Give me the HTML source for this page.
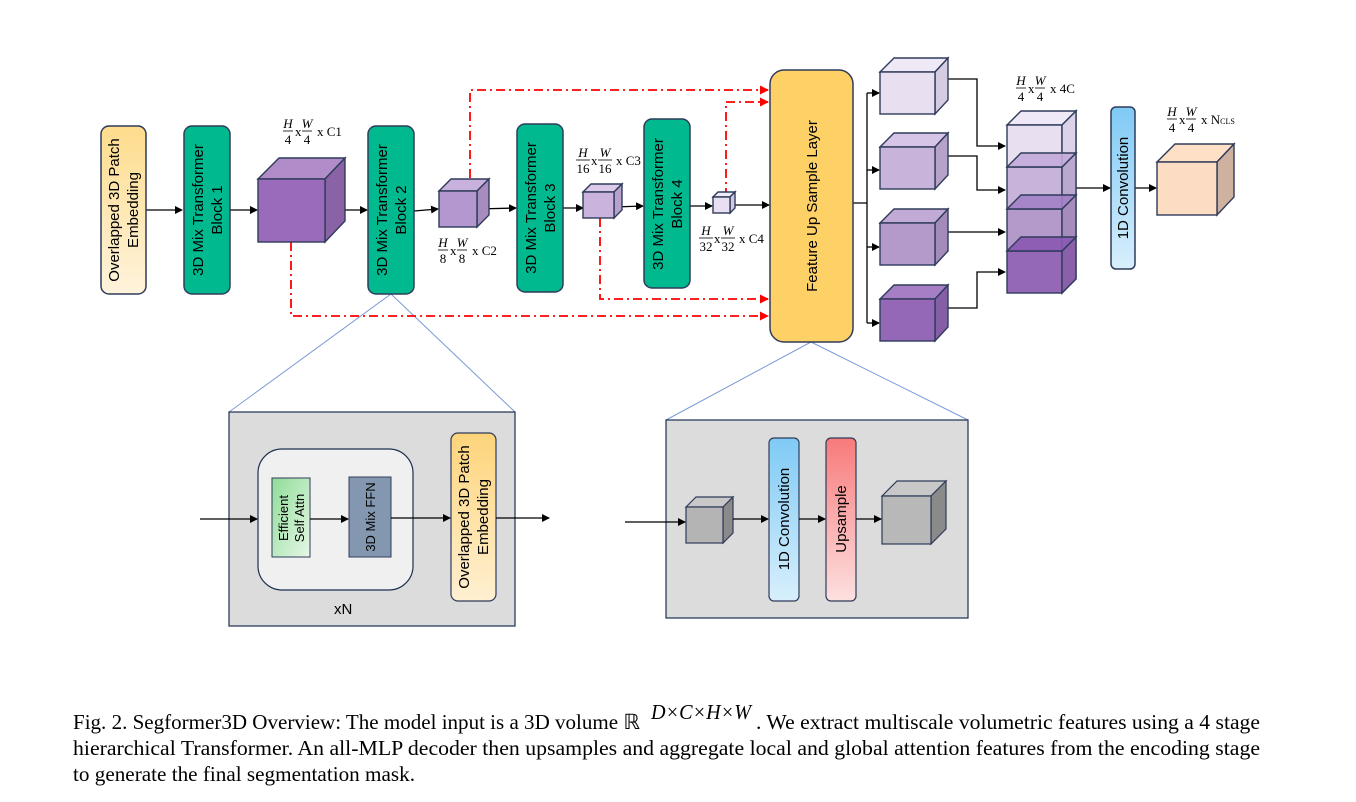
<!DOCTYPE html>
<html><head><meta charset="utf-8"><style>
html,body{margin:0;padding:0;background:#fff}
svg{display:block}
.b{font-family:"Liberation Sans",sans-serif;font-size:15px;fill:#000}
.f{font-family:"Liberation Serif",serif;font-size:13px;fill:#000}
.fi{font-family:"Liberation Serif",serif;font-style:italic;font-size:13px;fill:#000}
.cap{font-family:"Liberation Serif",serif;font-size:21px;fill:#000}
</style></head><body>
<svg width="1356" height="802" viewBox="0 0 1356 802" xmlns="http://www.w3.org/2000/svg">
<defs>
<linearGradient id="yel" x1="0" y1="0" x2="0" y2="1"><stop offset="0" stop-color="#fddc8c"/><stop offset="1" stop-color="#fff3dc"/></linearGradient>
<linearGradient id="yel2" x1="0" y1="0" x2="0" y2="1"><stop offset="0" stop-color="#fdd47a"/><stop offset="1" stop-color="#fff0d2"/></linearGradient>
<linearGradient id="grn" x1="0" y1="0" x2="1" y2="1"><stop offset="0" stop-color="#8fdc98"/><stop offset="1" stop-color="#e6f7e6"/></linearGradient>
<linearGradient id="blu" x1="0" y1="0" x2="0" y2="1"><stop offset="0" stop-color="#7fcaf5"/><stop offset="1" stop-color="#d8effc"/></linearGradient>
<linearGradient id="red" x1="0" y1="0" x2="0" y2="1"><stop offset="0" stop-color="#f87a7a"/><stop offset="1" stop-color="#fde0e0"/></linearGradient>
<marker id="ar" markerWidth="8" markerHeight="8" refX="7" refY="4" orient="auto" markerUnits="userSpaceOnUse"><path d="M0,0 L8,4 L0,8 z" fill="#000"/></marker>
<marker id="arr" markerWidth="9" markerHeight="9" refX="8" refY="4.5" orient="auto" markerUnits="userSpaceOnUse"><path d="M0,0 L9,4.5 L0,9 z" fill="#f00"/></marker>
</defs>

<g stroke="#7a9ad6" stroke-width="1" fill="none">
<path d="M391,294 L229,412 M391,294 L515,412"/>
<path d="M811,342 L666,420 M811,342 L968,420"/>
</g>

<g stroke="#f00" stroke-width="1.8" fill="none" stroke-dasharray="9,4,2,4">
<path d="M291,242 L291,316 L768,316" marker-end="url(#arr)"/>
<path d="M470,178 L470,90 L768,90" marker-end="url(#arr)"/>
<path d="M600,218 L600,299 L768,299" marker-end="url(#arr)"/>
<path d="M726,197 L726,102 L768,102" marker-end="url(#arr)"/>
</g>

<g stroke="#000" stroke-width="1.3" fill="none">
<path d="M146,210 L182,210" marker-end="url(#ar)"/>
<path d="M230,210 L257,210" marker-end="url(#ar)"/>
<path d="M325,210 L367,210" marker-end="url(#ar)"/>
<path d="M414,211 L438,209" marker-end="url(#ar)"/>
<path d="M477,209 L516,208" marker-end="url(#ar)"/>
<path d="M562,208 L583,208" marker-end="url(#ar)"/>
<path d="M614,207 L643,206" marker-end="url(#ar)"/>
<path d="M690,206 L712,206" marker-end="url(#ar)"/>
<path d="M730,205 L769,205" marker-end="url(#ar)"/>
<path d="M853,203 L867,203 M867,93 L867,323"/>
<path d="M867,93 L879,93" marker-end="url(#ar)"/>
<path d="M867,170 L879,170" marker-end="url(#ar)"/>
<path d="M867,247 L879,247" marker-end="url(#ar)"/>
<path d="M867,323 L879,323" marker-end="url(#ar)"/>
<path d="M948,79 L977,79 L977,146 L1005,146" marker-end="url(#ar)"/>
<path d="M948,156 L977,156 L977,190 L1005,190" marker-end="url(#ar)"/>
<path d="M948,232 L1005,232" marker-end="url(#ar)"/>
<path d="M948,308 L977,308 L977,272 L1005,272" marker-end="url(#ar)"/>
<path d="M1062,188 L1110,188" marker-end="url(#ar)"/>
<path d="M1135,188 L1156,188" marker-end="url(#ar)"/>
</g>

<g stroke="#2f3b5a" stroke-width="1.5">
<rect x="101" y="126" width="45" height="168" rx="8" fill="url(#yel)"/>
<rect x="184" y="126" width="46" height="168" rx="8" fill="#00b98e"/>
<rect x="368" y="126" width="46" height="168" rx="8" fill="#00b98e"/>
<rect x="517" y="124" width="46" height="168" rx="8" fill="#00b98e"/>
<rect x="644" y="119" width="46" height="169" rx="8" fill="#00b98e"/>
<rect x="770" y="70" width="83" height="272" rx="14" fill="#fed166"/>
<rect x="1111" y="107" width="24" height="162" rx="5" fill="url(#blu)"/>
</g>
<g class="b">
<text transform="translate(119,210) rotate(-90)" text-anchor="middle">Overlapped 3D Patch</text>
<text transform="translate(138,210) rotate(-90)" text-anchor="middle">Embedding</text>
<text transform="translate(203,210) rotate(-90)" text-anchor="middle">3D Mix Transformer</text>
<text transform="translate(222,210) rotate(-90)" text-anchor="middle">Block 1</text>
<text transform="translate(387,210) rotate(-90)" text-anchor="middle">3D Mix Transformer</text>
<text transform="translate(406,210) rotate(-90)" text-anchor="middle">Block 2</text>
<text transform="translate(536,208) rotate(-90)" text-anchor="middle">3D Mix Transformer</text>
<text transform="translate(555,208) rotate(-90)" text-anchor="middle">Block 3</text>
<text transform="translate(663,204) rotate(-90)" text-anchor="middle">3D Mix Transformer</text>
<text transform="translate(682,204) rotate(-90)" text-anchor="middle">Block 4</text>
<text transform="translate(817,206) rotate(-90)" text-anchor="middle">Feature Up Sample Layer</text>
<text transform="translate(1128,188) rotate(-90)" text-anchor="middle">1D Convolution</text>
</g>

<g stroke="#2f3b5a" stroke-width="1.4">
<polygon points="258,179 279,158 345,158 325,179" fill="#b08dc8"/>
<polygon points="325,179 345,158 345,221 325,242" fill="#8a62a6"/>
<rect x="258" y="179" width="67" height="63" fill="#9a6bba"/>
<polygon points="439,191 451,179 489,179 477,191" fill="#c9b1de"/>
<polygon points="477,191 489,179 489,215 477,227" fill="#a88cc0"/>
<rect x="439" y="191" width="38" height="36" fill="#b597cf"/>
<polygon points="583,192 591,184 622,184 614,192" fill="#dccbea"/>
<polygon points="614,192 622,184 622,210 614,218" fill="#b8a2cc"/>
<rect x="583" y="192" width="31" height="26" fill="#cab4de"/>
<polygon points="713,197 718,192 735,192 730,197" fill="#f0eaf6"/>
<polygon points="730,197 735,192 735,208 730,213" fill="#d4c8e0"/>
<rect x="713" y="197" width="17" height="16" fill="#e8e0f2"/>
<polygon points="880,72 894,58 948,58 935,72" fill="#efe8f6"/>
<polygon points="935,72 948,58 948,100 935,114" fill="#d6cce2"/>
<rect x="880" y="72" width="55" height="42" fill="#e8e0f0"/>
<polygon points="880,147 894,133 948,133 935,147" fill="#d6c5e6"/>
<polygon points="935,147 948,133 948,175 935,189" fill="#b7a3c9"/>
<rect x="880" y="147" width="55" height="42" fill="#c8b4db"/>
<polygon points="880,223 894,209 948,209 935,223" fill="#c2aad7"/>
<polygon points="935,223 948,209 948,251 935,265" fill="#a48cba"/>
<rect x="880" y="223" width="55" height="42" fill="#b49acb"/>
<polygon points="880,299 894,285 948,285 935,299" fill="#a67ec5"/>
<polygon points="935,299 948,285 948,327 935,341" fill="#865ea5"/>
<rect x="880" y="299" width="55" height="42" fill="#9468b7"/>
<polygon points="1062,125 1076,111 1076,279 1062,293" fill="#c0a8d4" fill-opacity="0.8"/>
<polygon points="1007,125 1021,111 1076,111 1062,125" fill="#efe8f6"/>
<rect x="1007" y="125" width="55" height="42" fill="#e8e0f0"/>
<rect x="1007" y="167" width="55" height="42" fill="#c8b4db"/>
<rect x="1007" y="209" width="55" height="42" fill="#b49acb"/>
<rect x="1007" y="251" width="55" height="42" fill="#9468b7"/>
<polygon points="1062,125 1076,111 1076,153 1062,167" fill="#ddd3e8"/>
<polygon points="1062,167 1076,153 1076,195 1062,209" fill="#bba8cf"/>
<polygon points="1062,209 1076,195 1076,237 1062,251" fill="#a58cbd"/>
<polygon points="1062,251 1076,237 1076,279 1062,293" fill="#8a60aa"/>
<polygon points="1007,167 1021,153 1076,153 1062,167" fill="#c2a8da" fill-opacity="0.9"/>
<polygon points="1007,209 1021,195 1076,195 1062,209" fill="#a27fc5" fill-opacity="0.9"/>
<polygon points="1007,251 1021,237 1076,237 1062,251" fill="#8a58b3" fill-opacity="0.9"/>
<polygon points="1157,162 1175,144 1234,144 1217,162" fill="#fde0c6"/>
<polygon points="1217,162 1234,144 1234,197 1217,215" fill="#cfb1a0"/>
<rect x="1157" y="162" width="60" height="53" fill="#fddcc4"/>
</g>

<g>
<g transform="translate(283,117)">
<text class="fi" x="5" y="11" text-anchor="middle">H</text><line x1="0" y1="14" x2="10" y2="14" stroke="#000" stroke-width="0.8"/><text class="f" x="5" y="27" text-anchor="middle">4</text>
<text class="f" x="12" y="19">x</text>
<text class="fi" x="24" y="11" text-anchor="middle">W</text><line x1="19" y1="14" x2="29" y2="14" stroke="#000" stroke-width="0.8"/><text class="f" x="24" y="27" text-anchor="middle">4</text>
<text class="f" x="34" y="19">x C1</text>
</g>
<g transform="translate(438,236)">
<text class="fi" x="5" y="11" text-anchor="middle">H</text><line x1="0" y1="14" x2="10" y2="14" stroke="#000" stroke-width="0.8"/><text class="f" x="5" y="27" text-anchor="middle">8</text>
<text class="f" x="12" y="19">x</text>
<text class="fi" x="24" y="11" text-anchor="middle">W</text><line x1="19" y1="14" x2="29" y2="14" stroke="#000" stroke-width="0.8"/><text class="f" x="24" y="27" text-anchor="middle">8</text>
<text class="f" x="34" y="19">x C2</text>
</g>
<g transform="translate(576,146)">
<text class="fi" x="7" y="11" text-anchor="middle">H</text><line x1="0" y1="14" x2="14" y2="14" stroke="#000" stroke-width="0.8"/><text class="f" x="7" y="27" text-anchor="middle">16</text>
<text class="f" x="15" y="19">x</text>
<text class="fi" x="29" y="11" text-anchor="middle">W</text><line x1="22" y1="14" x2="36" y2="14" stroke="#000" stroke-width="0.8"/><text class="f" x="29" y="27" text-anchor="middle">16</text>
<text class="f" x="40" y="19">x C3</text>
</g>
<g transform="translate(699,224)">
<text class="fi" x="7" y="11" text-anchor="middle">H</text><line x1="0" y1="14" x2="14" y2="14" stroke="#000" stroke-width="0.8"/><text class="f" x="7" y="27" text-anchor="middle">32</text>
<text class="f" x="15" y="19">x</text>
<text class="fi" x="29" y="11" text-anchor="middle">W</text><line x1="22" y1="14" x2="36" y2="14" stroke="#000" stroke-width="0.8"/><text class="f" x="29" y="27" text-anchor="middle">32</text>
<text class="f" x="40" y="19">x C4</text>
</g>
<g transform="translate(1016,74)">
<text class="fi" x="5" y="11" text-anchor="middle">H</text><line x1="0" y1="14" x2="10" y2="14" stroke="#000" stroke-width="0.8"/><text class="f" x="5" y="27" text-anchor="middle">4</text>
<text class="f" x="12" y="19">x</text>
<text class="fi" x="24" y="11" text-anchor="middle">W</text><line x1="19" y1="14" x2="29" y2="14" stroke="#000" stroke-width="0.8"/><text class="f" x="24" y="27" text-anchor="middle">4</text>
<text class="f" x="34" y="19">x 4C</text>
</g>
<g transform="translate(1167,105)">
<text class="fi" x="5" y="11" text-anchor="middle">H</text><line x1="0" y1="14" x2="10" y2="14" stroke="#000" stroke-width="0.8"/><text class="f" x="5" y="27" text-anchor="middle">4</text>
<text class="f" x="12" y="19">x</text>
<text class="fi" x="24" y="11" text-anchor="middle">W</text><line x1="19" y1="14" x2="29" y2="14" stroke="#000" stroke-width="0.8"/><text class="f" x="24" y="27" text-anchor="middle">4</text>
<text class="f" x="34" y="19">x N<tspan font-size="8">CLS</tspan></text>
</g>
<g transform="translate(887,552)">
<text class="fi" x="5" y="11" text-anchor="middle">H</text><line x1="0" y1="14" x2="10" y2="14" stroke="#000" stroke-width="0.8"/><text class="f" x="5" y="27" text-anchor="middle">4</text>
<text class="f" x="12" y="19">x</text>
<text class="fi" x="24" y="11" text-anchor="middle">W</text><line x1="19" y1="14" x2="29" y2="14" stroke="#000" stroke-width="0.8"/><text class="f" x="24" y="27" text-anchor="middle">4</text>
<text class="f" x="34" y="19">x C</text>
</g>
<g transform="translate(678,462)">
<text class="fi" x="5" y="7" text-anchor="middle" font-size="8">H</text><line x1="0" y1="9" x2="10" y2="9" stroke="#000" stroke-width="0.6"/><text class="f" x="5" y="17" text-anchor="middle" font-size="7">2<tspan font-size="5" dy="-3">i+1</tspan></text>
<text class="f" x="12" y="13" font-size="10">x</text>
<text class="fi" x="23" y="7" text-anchor="middle" font-size="8">W</text><line x1="18" y1="9" x2="28" y2="9" stroke="#000" stroke-width="0.6"/><text class="f" x="23" y="17" text-anchor="middle" font-size="7">2<tspan font-size="5" dy="-3">i+1</tspan></text>
<text class="f" x="31" y="13" font-size="10">x C<tspan font-size="6">i</tspan></text>
</g>
</g>

<rect x="229" y="412" width="286" height="214" fill="#dcdcdc" stroke="#1f2f4f" stroke-width="1.2"/>
<rect x="258" y="449" width="155" height="141" rx="24" fill="#f0f0f0" stroke="#1f2f4f" stroke-width="1.2"/>
<rect x="272" y="478" width="38" height="79" fill="url(#grn)" stroke="#2f3b5a" stroke-width="1"/>
<rect x="349" y="477" width="42" height="80" fill="#8497b0" stroke="#2f3b5a" stroke-width="1"/>
<rect x="451" y="433" width="45" height="168" rx="7" fill="url(#yel2)" stroke="#2f3b5a" stroke-width="1.2"/>
<g class="b">
<text transform="translate(288,518) rotate(-90)" text-anchor="middle" font-size="13">Efficient</text>
<text transform="translate(304,518) rotate(-90)" text-anchor="middle" font-size="13">Self Attn</text>
<text transform="translate(375,517) rotate(-90)" text-anchor="middle" font-size="13">3D Mix FFN</text>
<text transform="translate(469,517) rotate(-90)" text-anchor="middle">Overlapped 3D Patch</text>
<text transform="translate(488,517) rotate(-90)" text-anchor="middle">Embedding</text>
</g>
<text x="334" y="614" class="b" font-size="18">xN</text>
<g stroke="#000" stroke-width="1.2" fill="none">
<path d="M200,519 L257,519" marker-end="url(#ar)"/>
<path d="M310,519 L348,519" marker-end="url(#ar)"/>
<path d="M391,518 L450,518" marker-end="url(#ar)"/>
<path d="M496,518 L549,518" marker-end="url(#ar)"/>
</g>

<rect x="666" y="420" width="302" height="198" fill="#dcdcdc" stroke="#1f2f4f" stroke-width="1.2"/>
<rect x="769" y="438" width="30" height="163" rx="5" fill="url(#blu)" stroke="#2f3b5a" stroke-width="1.2"/>
<rect x="826" y="438" width="30" height="163" rx="5" fill="url(#red)" stroke="#2f3b5a" stroke-width="1.2"/>
<g class="b">
<text transform="translate(789,519) rotate(-90)" text-anchor="middle">1D Convolution</text>
<text transform="translate(846,519) rotate(-90)" text-anchor="middle">Upsample</text>
</g>
<g stroke="#2f3b5a" stroke-width="1.2">
<polygon points="686,507 696,497 733,497 723,507" fill="#c8c8c8"/>
<polygon points="723,507 733,497 733,533 723,543" fill="#8a8a8a"/>
<rect x="686" y="507" width="37" height="36" fill="#b4b4b4"/>
<polygon points="882,496 897,481 946,481 931,496" fill="#c8c8c8"/>
<polygon points="931,496 946,481 946,529 931,544" fill="#8a8a8a"/>
<rect x="882" y="496" width="49" height="48" fill="#b8b8b8"/>
</g>
<g stroke="#000" stroke-width="1.2" fill="none">
<path d="M625,522 L685,522" marker-end="url(#ar)"/>
<path d="M733,519 L768,519" marker-end="url(#ar)"/>
<path d="M799,519 L825,519" marker-end="url(#ar)"/>
<path d="M856,519 L881,519" marker-end="url(#ar)"/>
</g>

<text class="cap" x="73" y="729" textLength="567" lengthAdjust="spacingAndGlyphs">Fig. 2. Segformer3D Overview: The model input is a 3D volume ℝ</text>
<text class="cap" x="651" y="719" font-style="italic" font-size="15" textLength="100" lengthAdjust="spacingAndGlyphs">D×C×H×W</text>
<text class="cap" x="756" y="729" textLength="504" lengthAdjust="spacingAndGlyphs">. We extract multiscale volumetric features using a 4 stage</text>
<text class="cap" x="73" y="755" textLength="1187" lengthAdjust="spacingAndGlyphs">hierarchical Transformer. An all-MLP decoder then upsamples and aggregate local and global attention features from the encoding stage</text>
<text class="cap" x="73" y="781" textLength="342" lengthAdjust="spacingAndGlyphs">to generate the final segmentation mask.</text>
</svg>
</body></html>
